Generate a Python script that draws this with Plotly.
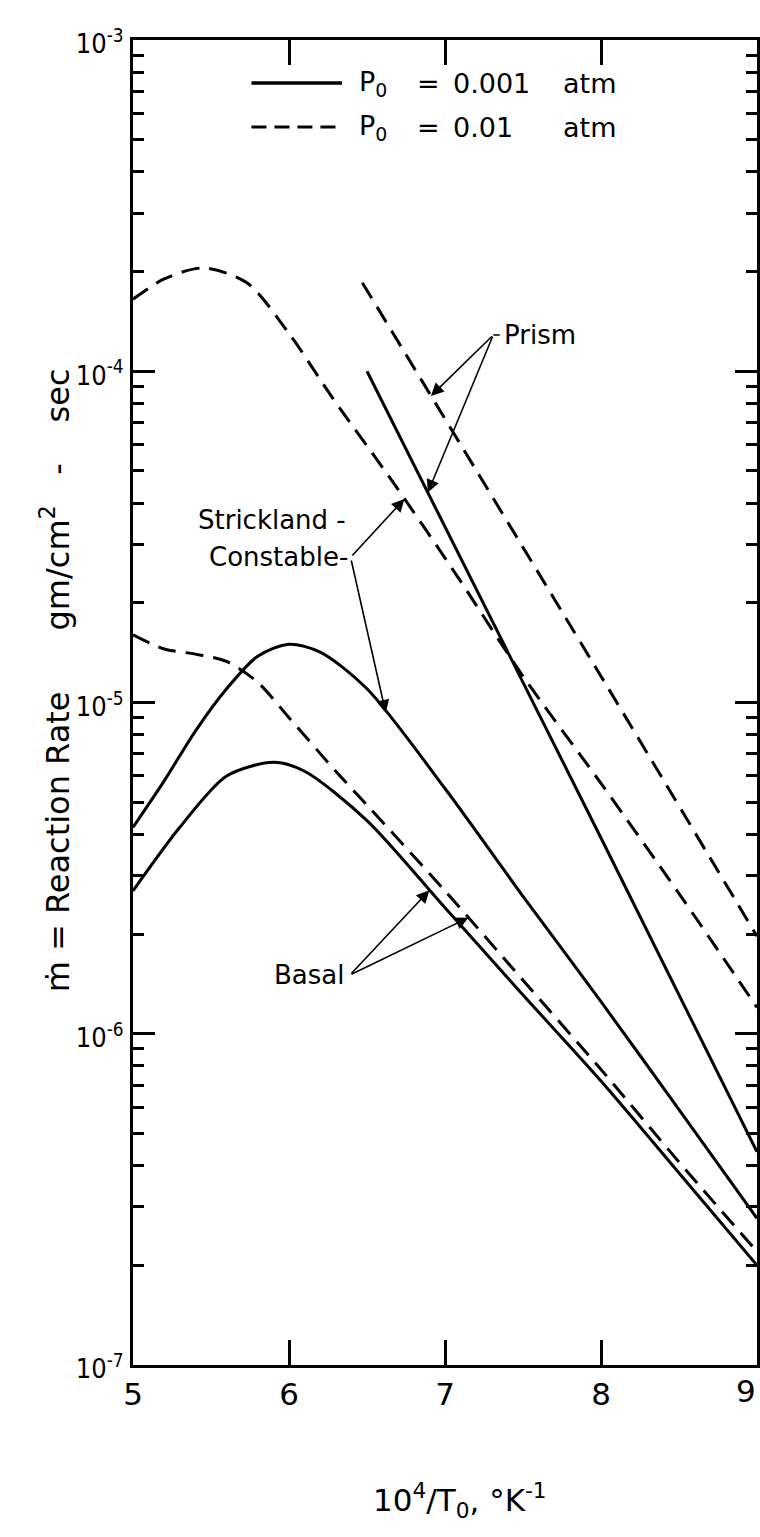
import numpy as np
import plotly.graph_objects as go

# ---------------- data ----------------
# x = 10^4 / T0 (1/K), y = reaction rate (gm/cm^2-sec)
X_SC_001 = [5.0, 5.2, 5.4, 5.6, 5.8, 6.0, 6.2, 6.5, 7.0, 7.5, 8.0, 8.5, 9.0]
Y_SC_001 = [4.2e-6, 5.8e-6, 8.2e-6, 1.1e-5, 1.38e-5, 1.5e-5, 1.42e-5, 1.1e-5, 5.5e-6, 2.6e-6, 1.25e-6, 5.9e-7, 2.77e-7]

X_SC_01 = [5.0, 5.2, 5.45, 5.73, 6.0, 6.28, 6.67, 7.08, 7.5, 8.0, 8.5, 9.0]
Y_SC_01 = [1.65e-4, 1.9e-4, 2.05e-4, 1.85e-4, 1.3e-4, 8.3e-5, 4.6e-5, 2.4e-5, 1.2e-5, 5.7e-6, 2.65e-6, 1.2e-6]

X_BA_001 = [5.0, 5.3, 5.6, 5.9, 6.1, 6.5, 7.0, 7.5, 8.0, 8.5, 9.0]
Y_BA_001 = [2.7e-6, 4.2e-6, 6.0e-6, 6.6e-6, 6.2e-6, 4.4e-6, 2.4e-6, 1.31e-6, 7.2e-7, 3.8e-7, 2.0e-7]

X_BA_01 = [5.0, 5.2, 5.4, 5.6, 5.8, 6.0, 6.3, 6.5, 7.0, 7.5, 8.0, 8.5, 9.0]
Y_BA_01 = [1.6e-5, 1.45e-5, 1.4e-5, 1.33e-5, 1.15e-5, 9.0e-6, 6.2e-6, 4.9e-6, 2.7e-6, 1.45e-6, 7.8e-7, 4.1e-7, 2.2e-7]

X_PR_001 = [6.5, 8.0, 9.0]
Y_PR_001 = [1.0e-4, 3.9e-6, 4.4e-7]

X_PR_01 = [6.47, 8.0, 9.0]
Y_PR_01 = [1.85e-4, 1.2e-5, 1.97e-6]

X_TICKS = [5, 6, 7, 8, 9]
Y_TICKS = [1e-7, 1e-6, 1e-5, 1e-4, 1e-3]
Y_TICKTEXT = ["10<sup>-7</sup>", "10<sup>-6</sup>", "10<sup>-5</sup>", "10<sup>-4</sup>", "10<sup>-3</sup>"]

FONT = "DejaVu Sans"
NARROW = "DejaVu Sans Condensed, Liberation Sans Narrow, Liberation Sans, DejaVu Sans"
W, H = 760, 1537
L_M, R_M, T_M, B_M = 133, 0, 40, 172

fig = go.Figure()

def add_curve(xs, ys, dash):
    fig.add_trace(go.Scatter(
        x=xs, y=ys, mode="lines",
        line=dict(color="black", width=3, dash=dash, shape="spline", smoothing=0.8),
        showlegend=False, hoverinfo="skip"))

DASH = "18px,10px"
add_curve(X_SC_01, Y_SC_01, DASH)
add_curve(X_SC_001, Y_SC_001, "solid")
add_curve(X_BA_01, Y_BA_01, DASH)
add_curve(X_BA_001, Y_BA_001, "solid")
add_curve(X_PR_01, Y_PR_01, DASH)
add_curve(X_PR_001, Y_PR_001, "solid")

def logval(xs, ys, x):
    return float(np.interp(x, xs, np.log10(ys)))

def px2x(px):
    return 5 + (px - L_M) / (W - L_M - R_M) * 4

def py2l(py):
    return -3 - (py - T_M) / (H - T_M - B_M) * 4

annos = []
txtfont = dict(family=FONT, size=26, color="black")

def arrow(tail_px, tail_py, tip_x, tip_l):
    annos.append(dict(x=tip_x, y=tip_l, ax=px2x(tail_px), ay=py2l(tail_py),
                      xref="x", yref="y", axref="x", ayref="y", text="",
                      showarrow=True, arrowhead=2, arrowsize=1.6, arrowwidth=1.6,
                      arrowcolor="black"))

# Prism
annos.append(dict(x=px2x(504), y=py2l(335), xref="x", yref="y", text="Prism",
                  showarrow=False, xanchor="left", yanchor="middle", font=txtfont))
annos.append(dict(x=px2x(495), y=py2l(335), ax=px2x(503), ay=py2l(335), xref="x", yref="y",
                  axref="x", ayref="y", text="", showarrow=True, arrowhead=0, arrowwidth=1.6,
                  arrowcolor="black"))
arrow(495, 335, 6.91, logval(X_PR_01, Y_PR_01, 6.91))
arrow(495, 335, 6.89, logval(X_PR_001, Y_PR_001, 6.89))
# Strickland - Constable
annos.append(dict(x=px2x(349), y=py2l(520), xref="x", yref="y", text="Strickland -",
                  showarrow=False, xanchor="right", yanchor="middle", font=txtfont))
annos.append(dict(x=px2x(351), y=py2l(557), xref="x", yref="y", text="Constable-",
                  showarrow=False, xanchor="right", yanchor="middle", font=txtfont))
arrow(352, 557, 6.74, logval(X_SC_01, Y_SC_01, 6.74))
arrow(352, 559, 6.62, logval(X_SC_001, Y_SC_001, 6.62))
# Basal
annos.append(dict(x=px2x(347), y=py2l(975), xref="x", yref="y", text="Basal",
                  showarrow=False, xanchor="right", yanchor="middle", font=txtfont))
arrow(351, 975, 6.90, logval(X_BA_001, Y_BA_001, 6.90))
arrow(351, 975, 7.15, logval(X_BA_01, Y_BA_01, 7.15))

# legend
def ppx(px):
    return (px - L_M) / (W - L_M - R_M)

def ppy(py):
    return (H - B_M - py) / (H - T_M - B_M)

shapes = [
    dict(type="line", xref="paper", yref="paper", x0=ppx(252), x1=ppx(343), y0=ppy(83), y1=ppy(83),
         line=dict(color="black", width=3.5)),
    dict(type="line", xref="paper", yref="paper", x0=ppx(252), x1=ppx(343), y0=ppy(127), y1=ppy(127),
         line=dict(color="black", width=3, dash="15px,8px")),
]
legfont = dict(family=FONT, size=27, color="black")
for py, val in [(83, "0.001"), (127, "0.01")]:
    annos.append(dict(x=ppx(358), y=ppy(py), xref="paper", yref="paper", text="P<sub>0</sub>",
                      showarrow=False, xanchor="left", yanchor="middle", font=legfont))
    annos.append(dict(x=ppx(416), y=ppy(py), xref="paper", yref="paper", text="=",
                      showarrow=False, xanchor="left", yanchor="middle", font=legfont))
    annos.append(dict(x=ppx(453), y=ppy(py), xref="paper", yref="paper", text=val,
                      showarrow=False, xanchor="left", yanchor="middle", font=legfont))
    annos.append(dict(x=ppx(563), y=ppy(py), xref="paper", yref="paper", text="atm",
                      showarrow=False, xanchor="left", yanchor="middle", font=legfont))

# tick label "9" sits at the right edge of the page
annos.append(dict(x=9, y=0, xref="x", yref="paper", text="9", showarrow=False,
                  xanchor="right", yanchor="top", yshift=-6, xshift=1,
                  font=dict(family=FONT, size=31, color="black")))

# axis titles
NB = "\u00a0"
annos.append(dict(x=ppx(55), y=ppy(680), xref="paper", yref="paper",
                  text="ṁ" + NB + "=" + NB + "Reaction" + NB + "Rate" + NB * 6 + "gm/cm<sup>2</sup>" + NB * 3 + "-" + NB * 4 + "sec",
                  textangle=-90, showarrow=False, xanchor="center", yanchor="middle",
                  font=dict(family=FONT, size=32, color="black")))
annos.append(dict(x=ppx(462), y=ppy(1500), xref="paper", yref="paper",
                  text="10<sup>4</sup>/T<sub>0</sub>," + NB + "°K<sup>-1</sup>",
                  showarrow=False, xanchor="center", yanchor="middle",
                  font=dict(family=FONT, size=31, color="black")))

fig.update_layout(
    width=W, height=H,
    margin=dict(l=L_M, r=R_M, t=T_M, b=B_M, pad=0),
    paper_bgcolor="white", plot_bgcolor="white",
    annotations=annos, shapes=shapes, showlegend=False,
)
fig.update_xaxes(
    range=[5, 9], tickvals=X_TICKS[:-1], ticktext=[str(v) for v in X_TICKS[:-1]],
    showgrid=False, zeroline=False, showline=True, linecolor="black", linewidth=3,
    mirror="ticks", ticks="inside", ticklen=25, tickwidth=2.5, tickcolor="black",
    tickfont=dict(family=FONT, size=31, color="black"),
)
fig.update_yaxes(
    type="log", range=[-7, -3], tickvals=Y_TICKS, ticktext=Y_TICKTEXT,
    showgrid=False, zeroline=False, showline=True, linecolor="black", linewidth=3,
    mirror="ticks", ticks="inside", ticklen=22, tickwidth=2.5, tickcolor="black",
    tickfont=dict(family=NARROW, size=27, color="black"), ticklabelshift=4, ticklabelstandoff=1,
    minor=dict(ticks="inside", ticklen=11, tickwidth=2.5, tickcolor="black", dtick="D1", showgrid=False),
)

fig.write_html("out.html")
